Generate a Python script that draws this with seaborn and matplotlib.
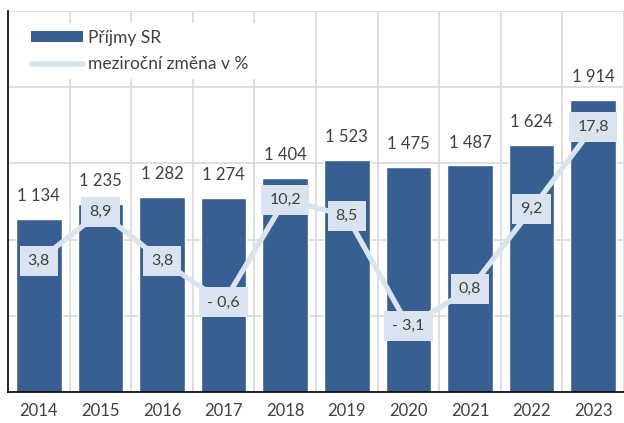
import numpy as np
import pandas as pd
import seaborn as sns
import matplotlib.pyplot as plt
from matplotlib.patches import Patch
from matplotlib.lines import Line2D

# data
years = ['2014', '2015', '2016', '2017', '2018', '2019', '2020', '2021', '2022', '2023']
prijmy = [1134, 1235, 1282, 1274, 1404, 1523, 1475, 1487, 1624, 1914]
zmena = [3.8, 8.9, 3.8, -0.6, 10.2, 8.5, -3.1, 0.8, 9.2, 17.8]
legend_labels = ['Příjmy SR', 'meziroční změna v %']

BAR = '#375f91'
LINE = '#dae3f0'
TXT = '#404040'
GRID = '#d9d9d9'
FS = 12

sns.set_style('white')
plt.rcParams['font.family'] = ['Lato', 'DejaVu Sans']

df = pd.DataFrame({'rok': years, 'prijmy': prijmy, 'zmena': zmena})

fig = plt.figure(figsize=(6.24, 4.23), dpi=100)
ax = fig.add_axes([8/624, 31/423, 616/624, 381/423])

sns.barplot(data=df, x='rok', y='prijmy', color=BAR, width=0.74,
            saturation=1, ax=ax, zorder=2)
ax.set_xlim(-0.5, -0.5 + 616/62)
ax.set_ylim(0, 2500)
ax.set_yticks(range(0, 2501, 500))
ax.set_yticklabels([])
ax.set_xticks(np.arange(len(years)) + 0.5, minor=True)
ax.grid(axis='y', color=GRID, lw=1.2)
ax.grid(axis='x', which='minor', color=GRID, lw=1.2)
ax.set_axisbelow(True)
ax.tick_params(axis='both', which='both', length=0)
ax.tick_params(axis='x', pad=8, labelsize=FS, labelcolor=TXT)
ax.set_xlabel('')
ax.set_ylabel('')
for s in ['top', 'right']:
    ax.spines[s].set_visible(False)
for s in ['left', 'bottom']:
    ax.spines[s].set_color('black')
    ax.spines[s].set_linewidth(1.2)

# value labels above bars
for i, v in enumerate(prijmy):
    ax.text(i, v + 150, f'{v:,}'.replace(',', ' '), ha='center', va='center',
            fontsize=FS, color=TXT)

# year-on-year change on secondary axis
ax2 = ax.twinx()
sns.lineplot(data=df, x='rok', y='zmena', color=LINE, lw=3.8, ax=ax2,
             sort=False, zorder=3)
ax2.set_ylim(-10, 30)
ax2.set_xlim(ax.get_xlim())
ax2.axis('off')

for i, v in enumerate(zmena):
    lab = f'{abs(v):.1f}'.replace('.', ',')
    if v < 0:
        lab = '- ' + lab
    ax2.text(i, v, lab, ha='center', va='center', fontsize=FS - 0.5, color=TXT,
             zorder=4,
             bbox=dict(boxstyle='square,pad=0.5', fc=LINE, ec='none'))

handles = [Patch(fc=BAR, ec='none'),
           Line2D([], [], color=LINE, lw=4, solid_capstyle='round')]
leg = ax2.legend(handles, legend_labels, loc='upper left',
                 bbox_to_anchor=(24/624, 1 - 23/423),
                 bbox_transform=fig.transFigure, borderaxespad=0,
                 borderpad=0.4, frameon=True, fancybox=False,
                 facecolor='white', edgecolor='none', framealpha=1,
                 handlelength=3.0, handleheight=0.6, handletextpad=0.3,
                 labelspacing=0.6, fontsize=12.5)
for t in leg.get_texts():
    t.set_color(TXT)
leg.set_zorder(10)

fig.savefig('out.png', dpi=100)
